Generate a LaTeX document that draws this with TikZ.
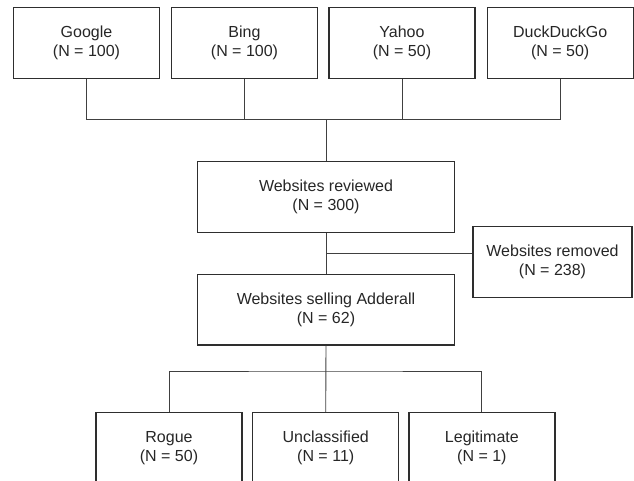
\documentclass[tikz,border=0pt]{standalone}
\usepackage{fontspec}
\setmainfont{Liberation Sans}
\begin{document}
\begin{tikzpicture}[x=1pt,y=-1pt,
  box/.style={draw=black!82,line width=1.3pt,rectangle,inner sep=0pt,align=center,
    text=black!85,font=\fontsize{16}{19.3}\selectfont},
  topbox/.style={box,minimum width=146pt,minimum height=71.4pt},
  midbox/.style={box,minimum width=257pt,minimum height=70.6pt},
  sidebox/.style={box,minimum width=159pt,minimum height=70.6pt},
  botbox/.style={box,minimum width=146pt,minimum height=71pt},
  link/.style={draw=black!75,line width=0.9pt}]
\useasboundingbox (0,0) rectangle (634,480);
\clip (0,0) rectangle (634,480);
\node[topbox] (google) at (86.5,43) {Google\\(N = 100)};
\node[topbox] (bing) at (244.5,43) {Bing\\(N = 100)};
\node[topbox] (yahoo) at (402,43) {Yahoo\\(N = 50)};
\node[topbox] (ddg) at (560.2,43) {DuckDuckGo\\(N = 50)};
\node[midbox] (rev) at (326,197) {Websites reviewed\\(N = 300)};
\node[sidebox] (removed) at (552.5,262) {Websites removed\\(N = 238)};
\node[midbox] (adder) at (326,309.6) {Websites selling Adderall\\(N = 62)};
\node[botbox] (rogue) at (169,448) {Rogue\\(N = 50)};
\node[botbox] (uncl) at (325.7,448) {Unclassified\\(N = 11)};
\node[botbox] (legit) at (481.9,448) {Legitimate\\(N = 1)};
\coordinate (j1) at (326,119.3);
\coordinate (j2) at (326,253.3);
\coordinate (j3) at (326,371);
\draw[link] (google.south) |- (j1) -| (ddg.south);
\draw[link] (bing.south) |- (j1);
\draw[link] (yahoo.south) |- (j1);
\draw[link] (j1) -- (rev.north);
\draw[link] (rev.south) -- (adder.north);
\draw[link] (j2) -- (j2 -| removed.west);
\draw[link] (adder.south) -- (uncl.north);
\draw[link] (rogue.north) |- (j3) -| (legit.north);
\end{tikzpicture}
\end{document}
